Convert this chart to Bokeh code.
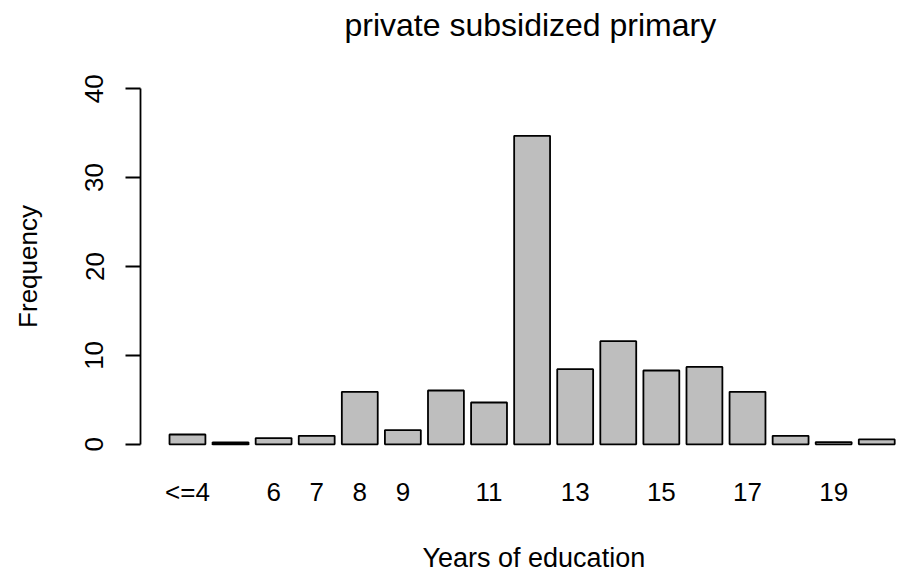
from bokeh.plotting import figure
from bokeh.models import Range1d, FixedTicker, Title
from bokeh.embed import file_html
from bokeh.resources import INLINE

# ---- data ----
categories = ["<=4", "5", "6", "7", "8", "9", "10", "11", "12", "13",
              "14", "15", "16", "17", "18", "19", "20"]
frequency = [1.1, 0.2, 0.7, 0.95, 5.9, 1.6, 6.05, 4.7, 34.7, 8.45,
             11.6, 8.3, 8.7, 5.9, 0.95, 0.25, 0.55]
shown_labels = ["<=4", "6", "7", "8", "9", "11", "13", "15", "17", "19"]
y_ticks = [0, 10, 20, 30, 40]
title_text = "private subsidized primary"
x_title = "Years of education"
y_title = "Frequency"

FONT = "Liberation Sans"
positions = list(range(len(categories)))

p = figure(width=909, height=573, output_backend="svg", toolbar_location=None,
           x_range=Range1d(-1.09, 16.76), y_range=Range1d(-1.6, 41.6),
           min_border_left=140, min_border_right=0, min_border_top=74,
           min_border_bottom=115)
p.outline_line_color = None
p.grid.visible = False
p.background_fill_color = "white"
p.border_fill_color = "white"

p.vbar(x=positions, top=frequency, bottom=0, width=1 / 1.2,
       fill_color="#BEBEBE", line_color="black", line_width=1.8)

# x axis: labels only
tick_pos = [categories.index(c) for c in shown_labels]
p.xaxis.ticker = FixedTicker(ticks=tick_pos)
p.xaxis.major_label_overrides = {i: c for i, c in zip(tick_pos, shown_labels)}
p.xaxis.axis_line_color = None
p.xaxis.major_tick_line_color = None
p.xaxis.minor_tick_line_color = None
p.xaxis.major_tick_out = 0
p.xaxis.major_tick_in = 0
p.xaxis.major_label_standoff = 18
p.xaxis.major_label_text_font = FONT
p.xaxis.major_label_text_font_size = "26px"
p.xaxis.major_label_text_color = "black"

# y axis
p.yaxis.ticker = FixedTicker(ticks=y_ticks)
p.yaxis.bounds = (y_ticks[0], y_ticks[-1])
p.yaxis.axis_line_width = 1.8
p.yaxis.axis_line_color = "black"
p.yaxis.major_tick_line_width = 1.8
p.yaxis.major_tick_line_color = "black"
p.yaxis.major_tick_out = 15
p.yaxis.major_tick_in = 0
p.yaxis.minor_tick_line_color = None
p.yaxis.major_label_orientation = "vertical"
p.yaxis.major_label_standoff = 22
p.yaxis.major_label_text_font = FONT
p.yaxis.major_label_text_font_size = "26px"
p.yaxis.major_label_text_color = "black"
p.yaxis.axis_label = y_title
p.yaxis.axis_label_text_font = FONT
p.yaxis.axis_label_text_font_size = "26px"
p.yaxis.axis_label_text_font_style = "normal"
p.yaxis.axis_label_text_color = "black"
p.yaxis.axis_label_standoff = 40

# title and x title, left-aligned with offsets so they sit centred on bar "12"
p.add_layout(Title(text=title_text, align="left", offset=204, standoff=0,
                   padding=dict(left=0, right=0, top=0, bottom=32),
                   text_font=FONT, text_font_size="32px",
                   text_font_style="normal", text_color="black"), "above")
p.add_layout(Title(text=x_title, align="left", offset=282, standoff=0,
                   padding=dict(left=0, right=0, top=31, bottom=0),
                   text_font=FONT, text_font_size="27px",
                   text_font_style="normal", text_color="black"), "below")

open("out.html", "w").write(file_html(p, INLINE))
